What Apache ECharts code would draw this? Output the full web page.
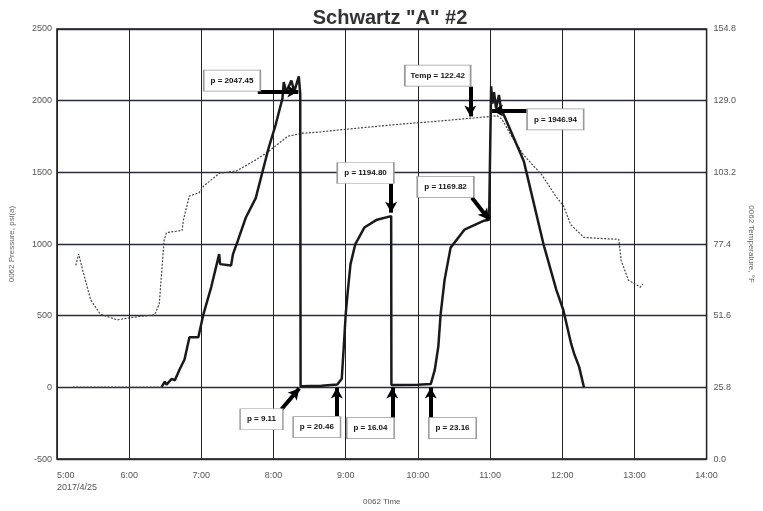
<!DOCTYPE html>
<html><head><meta charset="utf-8">
<script src="https://cdn.jsdelivr.net/npm/echarts@6/dist/echarts.min.js"></script>
<style>html,body{margin:0;background:#fff}#c{width:763px;height:511px}</style>
</head><body><div id="c"></div><script>
// ---- data ----
const chartTitle = 'Schwartz "A" #2';
const xTickLabels = ['5:00','6:00','7:00','8:00','9:00','10:00','11:00','12:00','13:00','14:00'];
const dateLabel = '2017/4/25';
const idleTimes = ['5:13','6:27'];
const idleValues = [3,3];
const pressureTimes = ['6:27','6:29.6','6:31','6:35.4','6:38','6:41.9','6:46','6:50.1','6:57.5','7:01.7','7:08.2','7:14.8','7:15.6','7:24.7','7:26.3','7:30.4','7:37','7:45.2','7:55.9','8:01.7','8:07.4','8:08.5','8:10.7','8:14.8','8:17.3','8:21','8:22.2','8:22.5','8:40','8:53','8:56.7','8:58.4','9:00','9:01.5','9:04','9:08','9:15.5','9:26','9:37.8','9:38','10:00','10:10.7','10:14','10:17','10:18.9','10:22.2','10:27.2','10:38.7','10:55','10:59.2','11:00.6','11:00.9','11:02','11:03.3','11:05','11:07.4','11:09','11:11.5','11:28','11:44.4','11:55.1','12:00.9','12:07.4','12:09.9','12:14','12:18.1'];
const pressureValues = [3,40,20,60,50,125,195,350,350,510,700,930,860,850,930,1025,1185,1320,1670,1830,2015,2130,2060,2140,2065,2170,2047,9,12,20,60,285,510,650,860,1000,1115,1170,1195,16,18,23,120,285,510,750,975,1100,1163,1170,1170,2100,1980,2060,1946,2040,1946,1900,1580,1000,680,540,305,235,145,0];
const tempTimes = ['5:15.6','5:18','5:21.4','5:28','5:36','5:50','6:04','6:21','6:25','6:29','6:31','6:44','6:45','6:50','6:58','7:02','7:15','7:29','7:45','7:56','8:12','8:24','8:35','9:00','9:44','10:16','10:44','11:00','11:06','11:10','11:18','11:28','11:43','11:55','12:01','12:07','12:18','12:28','12:47','12:49','12:55','13:05','13:07'];
const tempValues = [69.7,73.8,67.9,57.3,52.2,50.1,51.1,51.9,55.7,78.7,81.5,82.3,85.9,94.7,95.8,98.3,102.9,103.7,107.6,110.8,116.2,117.3,117.6,118.7,120.5,121.6,122.7,123.3,123.6,122.3,116.1,109.4,102.3,94.4,91.2,84.4,79.8,79.5,79.1,71.5,64.4,61.9,63.0];
const noteTexts = ['p = 2047.45','Temp = 122.42','p = 1946.94','p = 1194.80','p = 1169.82','p = 9.11','p = 20.46','p = 16.04','p = 23.16'];
const noteBoxTimes = ['7:25.5','10:16.5','11:54.3','9:16.5','10:23','7:50','8:36','9:20.6','10:28.8'];
const noteBoxValues = [2140,2175,1870,1496,1399,-222,-277,-284,-284];
const arrowFromTimes = ['7:46.9','10:43.6','11:34.6','9:37.8','10:45','8:06.6','8:52.6','9:38.7','10:10.7'];
const arrowFromValues = [2064,2098,1932,1420,1323,-152,-200,-215,-215];
const arrowToTimes = ['8:20.6','10:43.6','11:01.7','9:37.8','10:59.2','8:21.4','8:52.6','9:38.7','10:10.7'];
const arrowToValues = [2064,1890,1932,1219,1170,-7,0,0,0];

// ---- build ----
const toMin = s => { const p = s.split(':'); return +p[0]*60 + parseFloat(p[1]); };
const pressure = pressureTimes.map((t,i)=>[toMin(t), pressureValues[i]]);
const idle = idleTimes.map((t,i)=>[toMin(t), idleValues[i]]);
const temp = tempTimes.map((t,i)=>[toMin(t), tempValues[i]]);
const boxSizes = noteTexts.map(t => [t.length*4.6+6, 21]);

const chart = echarts.init(document.getElementById('c'), null, {renderer:'canvas'});
const FF = 'Liberation Sans, Arial, sans-serif';
const axisFont = {fontFamily:FF, fontSize:9, color:'#555'};
chart.setOption({
  animation:false,
  backgroundColor:'#fff',
  title:{text:chartTitle,left:385,textAlign:'center',top:3,
    textStyle:{fontFamily:FF,fontWeight:'bold',fontSize:20,color:'#333'}},
  grid:{left:56,right:51,top:29,bottom:45,show:true,borderColor:'#111',borderWidth:1.5},
  xAxis:{type:'value',min:300,max:840,interval:60,
    name:'0062 Time',nameLocation:'middle',nameGap:37,
    nameTextStyle:{fontFamily:FF,fontSize:8,color:'#555'},
    axisLine:{show:false},axisTick:{show:false},
    axisLabel:Object.assign({margin:10,alignMinLabel:'left',lineHeight:12,
      formatter:v=>{const i=Math.round((v-300)/60);return i===0?xTickLabels[0]+'\n'+dateLabel:xTickLabels[i];}},axisFont),
    splitLine:{show:true,lineStyle:{color:'#222',width:1}}},
  yAxis:[
    {type:'value',min:-500,max:2500,interval:500,
      name:'0062 Pressure, psi(a)',nameLocation:'middle',nameGap:41,
      nameTextStyle:{fontFamily:FF,fontSize:8,color:'#666'},
      axisLine:{show:false},axisTick:{show:false},
      axisLabel:Object.assign({margin:5,formatter:v=>String(v)},axisFont),
      splitLine:{show:true,lineStyle:{color:'#2a2a40',width:1.3}}},
    {type:'value',min:0,max:154.8,interval:25.8,position:'right',
      name:'0062 Temperature, \u00b0F',nameLocation:'middle',nameGap:40,nameRotate:-90,
      nameTextStyle:{fontFamily:FF,fontSize:8,color:'#666'},
      axisLine:{show:false},axisTick:{show:false},
      axisLabel:Object.assign({margin:7,formatter:v=>v.toFixed(1)},axisFont),
      splitLine:{show:false}}
  ],
  series:[
    {type:'line',name:'Temperature',yAxisIndex:1,data:temp,showSymbol:false,
      lineStyle:{color:'#444',width:1.2,type:[2,1.5]},z:2},
    {type:'line',name:'Pressure idle',yAxisIndex:0,data:idle,showSymbol:false,
      lineStyle:{color:'#555',width:1.2,type:[2,1.5]},z:2},
    {type:'line',name:'Pressure',yAxisIndex:0,data:pressure,showSymbol:false,
      lineStyle:{color:'#1a1a1a',width:2.5},z:3,
      markLine:{silent:true,symbol:['none','arrow'],symbolSize:[9,11],label:{show:false},
        lineStyle:{color:'#000',width:4,type:'solid'},
        data:arrowFromTimes.map((t,i)=>[{coord:[toMin(t),arrowFromValues[i]]},{coord:[toMin(arrowToTimes[i]),arrowToValues[i]]}])},
      markPoint:{silent:true,symbol:'rect',
        data:noteTexts.map((t,i)=>({coord:[toMin(noteBoxTimes[i]),noteBoxValues[i]],symbolSize:boxSizes[i],
          itemStyle:{color:'#fff',borderColor:'#999',borderWidth:1},
          label:{show:true,position:'inside',formatter:t,color:'#111',fontSize:8,fontWeight:'bold',fontFamily:FF}}))}
    }
  ]
});
</script></body></html>
